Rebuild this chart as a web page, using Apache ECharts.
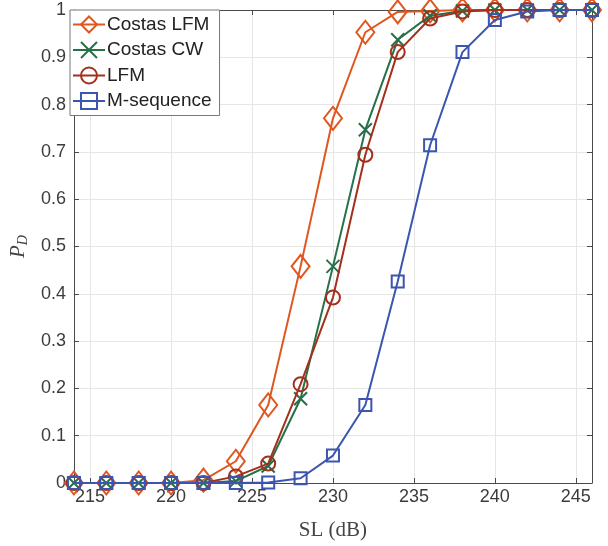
<!DOCTYPE html>
<html>
<head>
<meta charset="utf-8">
<script src="https://cdn.jsdelivr.net/npm/echarts@6/dist/echarts.min.js"></script>
<style>html,body{margin:0;padding:0;background:#fff}#c{width:608px;height:546px}</style>
</head>
<body>
<div id="c"></div>
<script>
const slValues = [214,216,218,220,222,224,226,228,230,232,234,236,238,240,242,244,246];
const costasLFM = [0,0,0,0,0.006,0.046,0.165,0.458,0.771,0.953,0.996,0.998,1,1,1,1,1];
const costasCW  = [0,0,0,0,0,0.004,0.036,0.178,0.458,0.747,0.937,0.988,0.998,1,1,1,1];
const lfm       = [0,0,0,0,0,0.014,0.041,0.209,0.392,0.694,0.911,0.982,0.997,1,1,1,1];
const mseq      = [0,0,0,0,0,0,0.001,0.01,0.058,0.165,0.426,0.714,0.911,0.979,0.997,1,1];
const xTicks = [215,220,225,230,235,240,245];
const seriesNames = ['Costas LFM','Costas CW','LFM','M-sequence'];
const seriesColors = ['#E0561F','#26704A','#A3301C','#3B55B0'];
const seriesSymbols = ['diamond','path://M0,0 L10,10 M10,0 L0,10','circle','rect'];
const seriesSizes = [[18,23],13,14,12];
const allData = [costasLFM,costasCW,lfm,mseq];

const axisColor = '#4a4a4a';
const labelColor = '#3c3c3c';
const gridColor = '#e6e6e6';
const font = 'Liberation Sans, Arial, sans-serif';
const serif = 'Liberation Serif, DejaVu Serif, serif';

const chart = echarts.init(document.getElementById('c'), null, {renderer:'canvas'});
const series = allData.map((d,i)=>({
  name: seriesNames[i],
  type: 'line',
  data: slValues.map((x,j)=>[x,d[j]]),
  symbol: seriesSymbols[i],
  symbolSize: seriesSizes[i],
  showAllSymbol: true,
  lineStyle: {color: seriesColors[i], width: 2},
  itemStyle: {color: 'rgba(255,255,255,0)', borderColor: seriesColors[i], borderWidth: 2},
  emphasis: {disabled: true},
  animation: false,
  clip: false,
  z: 3 + i
}));

chart.setOption({
  animation: false,
  grid: {left: 71, right: 16, top: 10, bottom: 62, containLabel: false},
  legend: {
    show: true,
    orient: 'vertical',
    left: 70, top: 10,
    data: seriesNames,
    itemWidth: 32, itemHeight: 20,
    itemGap: 6.5,
    padding: [5, 8, 5, 2],
    backgroundColor: '#fff',
    borderColor: '#777', borderWidth: 1,
    textStyle: {fontFamily: font, fontSize: 19, color: '#222', padding: [0,0,0,-3]},
    z: 20
  },
  xAxis: [{
    type: 'value', min: 214, max: 246,
    position: 'bottom',
    name: 'SL (dB)', nameLocation: 'middle', nameGap: 37,
    nameTextStyle: {fontFamily: serif, fontSize: 21, color: '#444'},
    axisLine: {show: true, onZero: false, lineStyle: {color: axisColor, width: 1}},
    axisTick: {show: true, inside: true, length: 5, customValues: xTicks, lineStyle: {color: axisColor}},
    axisLabel: {customValues: xTicks, fontFamily: font, fontSize: 18, color: labelColor, margin: 5},
    splitLine: {show: true, lineStyle: {color: gridColor, width: 1}}
  },{
    type: 'value', min: 214, max: 246,
    position: 'top',
    axisLine: {show: true, onZero: false, lineStyle: {color: axisColor, width: 1}},
    axisTick: {show: true, inside: true, length: 5, customValues: xTicks, lineStyle: {color: axisColor}},
    axisLabel: {show: false},
    splitLine: {show: false}
  }],
  yAxis: [{
    type: 'value', min: 0, max: 1, interval: 0.1,
    position: 'left',
    name: '{p|P}{s|D}', nameLocation: 'middle', nameGap: 42, nameRotate: 90,
    nameTextStyle: {rich: {
      p: {fontFamily: serif, fontStyle: 'italic', fontSize: 21, color: '#444'},
      s: {fontFamily: serif, fontStyle: 'italic', fontSize: 14, color: '#444', verticalAlign: 'bottom', padding: [9,0,0,0]}
    }},
    axisLine: {show: true, onZero: false, lineStyle: {color: axisColor, width: 1}},
    axisTick: {show: true, inside: true, length: 5, lineStyle: {color: axisColor}},
    axisLabel: {fontFamily: font, fontSize: 18, color: labelColor, margin: 8,
      formatter: v => (Math.round(v*10)/10).toString()},
    splitLine: {show: true, lineStyle: {color: gridColor, width: 1}}
  },{
    type: 'value', min: 0, max: 1, interval: 0.1,
    position: 'right',
    axisLine: {show: true, onZero: false, lineStyle: {color: axisColor, width: 1}},
    axisTick: {show: true, inside: true, length: 5, lineStyle: {color: axisColor}},
    axisLabel: {show: false},
    splitLine: {show: false}
  }],
  series: series
});
</script>
</body>
</html>
